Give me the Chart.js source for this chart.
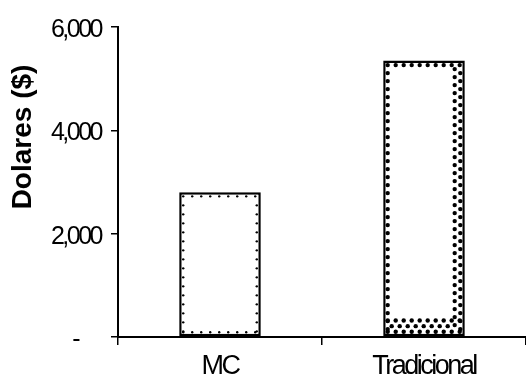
<!DOCTYPE html>
<html>
<head>
<meta charset="utf-8">
<script src="https://cdn.jsdelivr.net/npm/chart.js@4"></script>
<style>
  html, body { margin: 0; padding: 0; background: #fff; }
  #wrap { width: 526px; height: 386px; }
</style>
</head>
<body>
<div id="wrap"><canvas id="c" width="526" height="386"></canvas></div>
<script>
// Costs per method
const categories = ['MC', 'Tradicional'];
const dollars = [2800, 5350];
const yTicks = [0, 2000, 4000, 6000];
const yTitle = 'Dolares ($)';

const FONT = 'Liberation Sans, Arial, sans-serif';

// Tight letter spacing for the axis labels
const tightText = {
  id: 'tightText',
  beforeInit(chart) { chart.ctx.letterSpacing = '-2.5px'; },
  beforeUpdate(chart) { chart.ctx.letterSpacing = '-2.5px'; },
  beforeDraw(chart) { chart.ctx.letterSpacing = '-2.5px'; }
};

// Rotated value-axis title
const sideTitle = {
  id: 'sideTitle',
  afterDraw(chart) {
    const ctx = chart.ctx;
    ctx.save();
    ctx.letterSpacing = '0px';
    ctx.translate(23, 137);
    ctx.rotate(-Math.PI / 2);
    ctx.font = 'bold 28px ' + FONT;
    ctx.fillStyle = '#000';
    ctx.textAlign = 'center';
    ctx.textBaseline = 'middle';
    ctx.fillText(yTitle, 0, 0);
    ctx.restore();
  }
};

// Dotted inner edge for each bar, heavier dots for the second bar
const dotEdges = {
  id: 'dotEdges',
  afterDatasetsDraw(chart) {
    const ctx = chart.ctx;
    const meta = chart.getDatasetMeta(0);
    meta.data.forEach((bar, i) => {
      const left = bar.x - bar.width / 2;
      const right = bar.x + bar.width / 2;
      const top = Math.min(bar.y, bar.base);
      const bottom = Math.max(bar.y, bar.base);
      const heavy = i === 1;
      const r = heavy ? 2.2 : 1.2;
      const step = heavy ? 8 : 9;
      const inset = heavy ? 4.5 : 4;
      ctx.save();
      ctx.fillStyle = '#000';
      const dot = (x, y) => { ctx.beginPath(); ctx.arc(x, y, r, 0, Math.PI * 2); ctx.fill(); };
      // first ring
      for (let x = left + inset; x <= right - inset + 0.1; x += step) { dot(x, top + inset); dot(x, bottom - inset); }
      for (let y = top + inset + step; y <= bottom - inset; y += step) { dot(left + inset, y); dot(right - inset, y); }
      if (heavy) {
        // staggered inner ring on the right and bottom sides
        const in2 = inset + step * 0.7;
        for (let x = left + inset + step / 2; x <= right - in2; x += step) dot(x, bottom - in2);
        for (let y = top + inset + step / 2; y <= bottom - in2; y += step) dot(right - in2, y);
        // extra row along the bottom
        const in3 = inset + step * 1.4;
        for (let x = left + inset; x <= right - inset; x += step) dot(x, bottom - in3);
      }
      ctx.restore();
    });
  }
};

new Chart(document.getElementById('c'), {
  type: 'bar',
  data: {
    labels: categories,
    datasets: [{
      data: dollars,
      backgroundColor: '#fff',
      borderColor: '#000',
      borderWidth: 2.5,
      borderSkipped: false,
      categoryPercentage: 1,
      barPercentage: 0.40
    }]
  },
  options: {
    responsive: false,
    animation: false,
    devicePixelRatio: 1,
    layout: { padding: { left: 0, right: 0, top: 27, bottom: 0 } },
    plugins: { legend: { display: false }, tooltip: { enabled: false } },
    scales: {
      x: {
        offset: true,
        afterFit(s) { s.height = 49; },
        border: { display: true, color: '#000', width: 2 },
        grid: { offset: true, drawOnChartArea: false, color: '#000', tickLength: 8, lineWidth: 1.5 },
        ticks: {
          color: '#000',
          padding: 5,
          font: { family: FONT, size: 27 }
        }
      },
      y: {
        min: 0, max: 6000,
        afterBuildTicks(scale) { scale.ticks = yTicks.map(v => ({ value: v })); },
        afterFit(s) { s.width = 118; },
        border: { display: true, color: '#000', width: 2 },
        grid: { drawOnChartArea: false, color: '#000', tickLength: 7, lineWidth: 1.5 },
        ticks: {
          color: '#000',
          padding: 10,
          labelOffset: 3,
          font: { family: FONT, size: 25 },
          callback: v => v === 0 ? '-\u2007\u2007' : v.toLocaleString('en-US')
        }
      }
    }
  },
  plugins: [tightText, dotEdges, sideTitle]
});
</script>
</body>
</html>
